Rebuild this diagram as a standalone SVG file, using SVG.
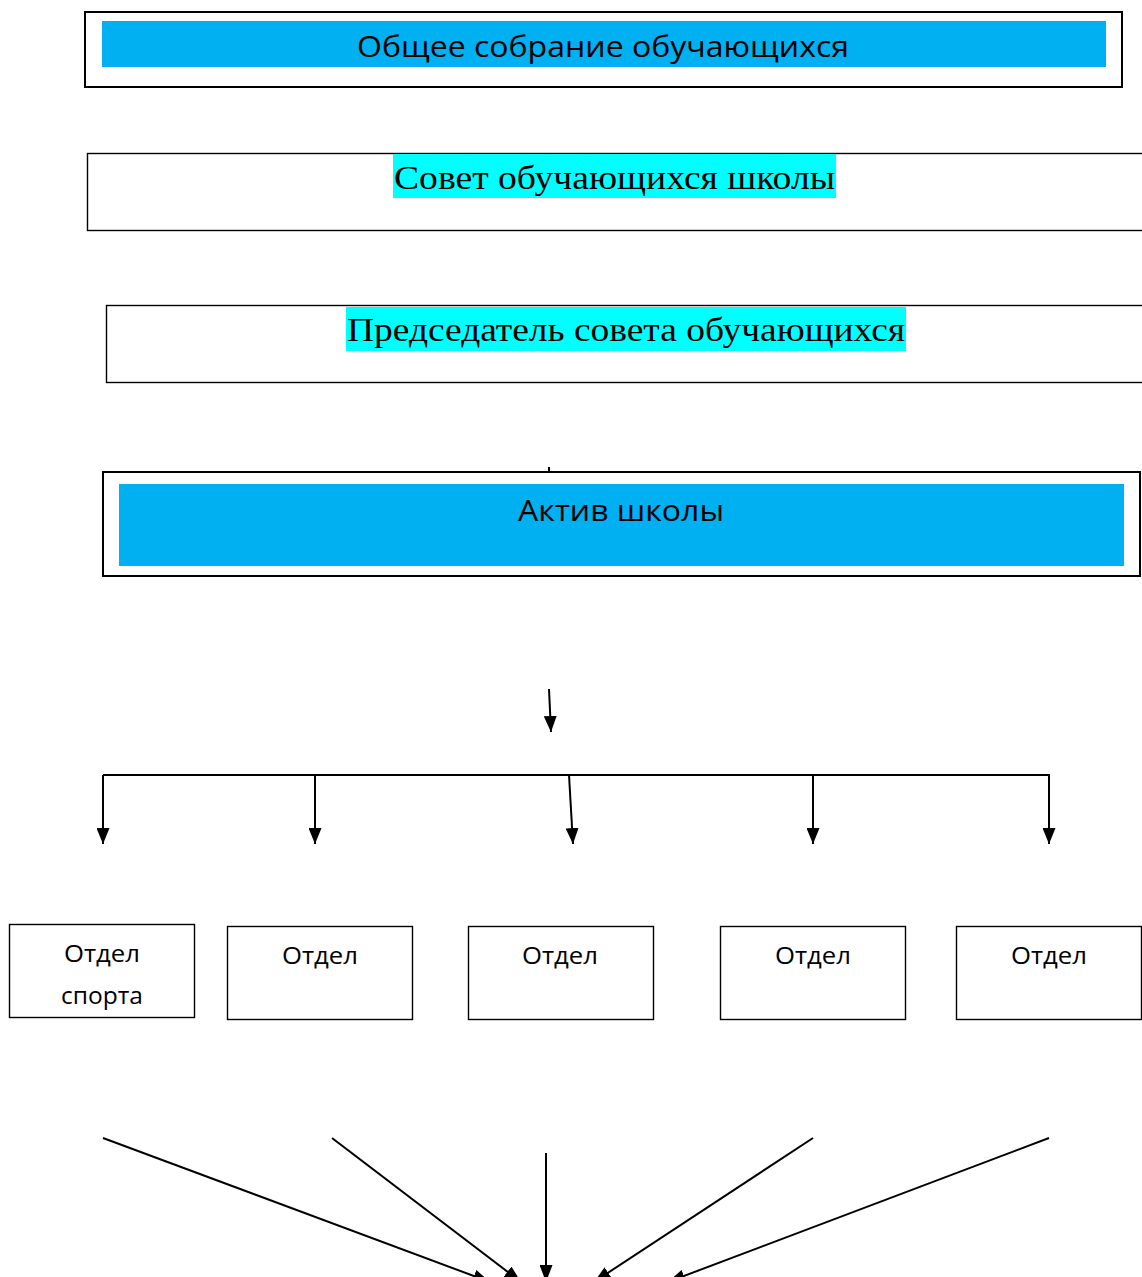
<svg xmlns="http://www.w3.org/2000/svg" width="1142" height="1277" viewBox="0 0 1142 1277">
<defs>
<marker id="ah" markerWidth="16" markerHeight="13" refX="16" refY="6.5" orient="auto" markerUnits="userSpaceOnUse" viewBox="0 0 16 13">
<path d="M0,0 L16,6.5 L0,13 Z" fill="#000"/>
</marker>
<marker id="ah2" markerWidth="17" markerHeight="13" refX="17" refY="6.5" orient="auto" markerUnits="userSpaceOnUse" viewBox="0 0 17 13">
<path d="M0,0 L17,6.5 L0,13 Z" fill="#000"/>
</marker>
</defs>
<style>
.frame{fill:#fff;stroke:#000;stroke-width:2}
.thin{fill:#fff;stroke:#000;stroke-width:1.4}
.blue{fill:#00B0F0}
.cyan{fill:#00FFFF}
.sans{font-family:"Open Sans","Liberation Sans",sans-serif;fill:#000}
.serif{font-family:"Liberation Serif","DejaVu Serif",serif;fill:#000}
.conn line{stroke:#000;stroke-width:2}
</style>
<g id="n1">
<rect class="frame" x="85" y="12" width="1037" height="75"/>
<rect class="blue" x="102" y="21" width="1004" height="46"/>
<text class="sans" x="603" y="57" font-size="30" text-anchor="middle" textLength="492" lengthAdjust="spacingAndGlyphs">Общее собрание обучающихся</text>
</g>
<g id="n2">
<rect class="thin" x="87.5" y="153.5" width="1060" height="77"/>
<rect class="cyan" x="393" y="154" width="443" height="44"/>
<text class="serif" x="614.5" y="189" font-size="34" text-anchor="middle" textLength="441" lengthAdjust="spacingAndGlyphs">Совет обучающихся школы</text>
</g>
<g id="n3">
<rect class="thin" x="106.5" y="305.5" width="1040" height="77"/>
<rect class="cyan" x="346" y="307" width="560" height="44"/>
<text class="serif" x="626" y="341" font-size="34" text-anchor="middle" textLength="558" lengthAdjust="spacingAndGlyphs">Председатель совета обучающихся</text>
</g>
<g id="n4">
<rect class="frame" x="103" y="472" width="1037" height="104"/>
<rect class="blue" x="119" y="484" width="1005" height="82"/>
<text class="sans" x="621" y="521" font-size="30" text-anchor="middle" textLength="206" lengthAdjust="spacingAndGlyphs">Актив школы</text>
</g>
<g id="d1">
<rect class="thin" x="9.5" y="924.5" width="185" height="93"/>
<text class="sans" x="102" y="962" font-size="23" text-anchor="middle" textLength="76" lengthAdjust="spacingAndGlyphs">Отдел</text>
<text class="sans" x="102" y="1004" font-size="23" text-anchor="middle" textLength="82" lengthAdjust="spacingAndGlyphs">спорта</text>
</g>
<g id="d2">
<rect class="thin" x="227.5" y="926.5" width="185" height="93"/>
<text class="sans" x="320" y="964" font-size="23" text-anchor="middle" textLength="76" lengthAdjust="spacingAndGlyphs">Отдел</text>
</g>
<g id="d3">
<rect class="thin" x="468.5" y="926.5" width="185" height="93"/>
<text class="sans" x="560" y="964" font-size="23" text-anchor="middle" textLength="76" lengthAdjust="spacingAndGlyphs">Отдел</text>
</g>
<g id="d4">
<rect class="thin" x="720.5" y="926.5" width="185" height="93"/>
<text class="sans" x="813" y="964" font-size="23" text-anchor="middle" textLength="76" lengthAdjust="spacingAndGlyphs">Отдел</text>
</g>
<g id="d5">
<rect class="thin" x="956.5" y="926.5" width="185" height="93"/>
<text class="sans" x="1049" y="964" font-size="23" text-anchor="middle" textLength="76" lengthAdjust="spacingAndGlyphs">Отдел</text>
</g>
<g id="connectors" class="conn">
<line x1="549" y1="467" x2="549" y2="472"/>
<line x1="549" y1="689" x2="551" y2="732" marker-end="url(#ah)"/>
<line x1="103" y1="775" x2="1050" y2="775"/>
<line x1="103" y1="775" x2="103" y2="844" marker-end="url(#ah)"/>
<line x1="315" y1="775" x2="315" y2="844" marker-end="url(#ah)"/>
<line x1="569" y1="775" x2="573" y2="844" marker-end="url(#ah)"/>
<line x1="813" y1="775" x2="813" y2="844" marker-end="url(#ah)"/>
<line x1="1049" y1="775" x2="1049" y2="844" marker-end="url(#ah)"/>
<line x1="103" y1="1138" x2="490" y2="1282" marker-end="url(#ah2)"/>
<line x1="332" y1="1138" x2="521" y2="1282" marker-end="url(#ah2)"/>
<line x1="546" y1="1153" x2="546" y2="1282" marker-end="url(#ah2)"/>
<line x1="813" y1="1138" x2="594" y2="1282" marker-end="url(#ah2)"/>
<line x1="1049" y1="1138" x2="668" y2="1282" marker-end="url(#ah2)"/>
</g>
</svg>
